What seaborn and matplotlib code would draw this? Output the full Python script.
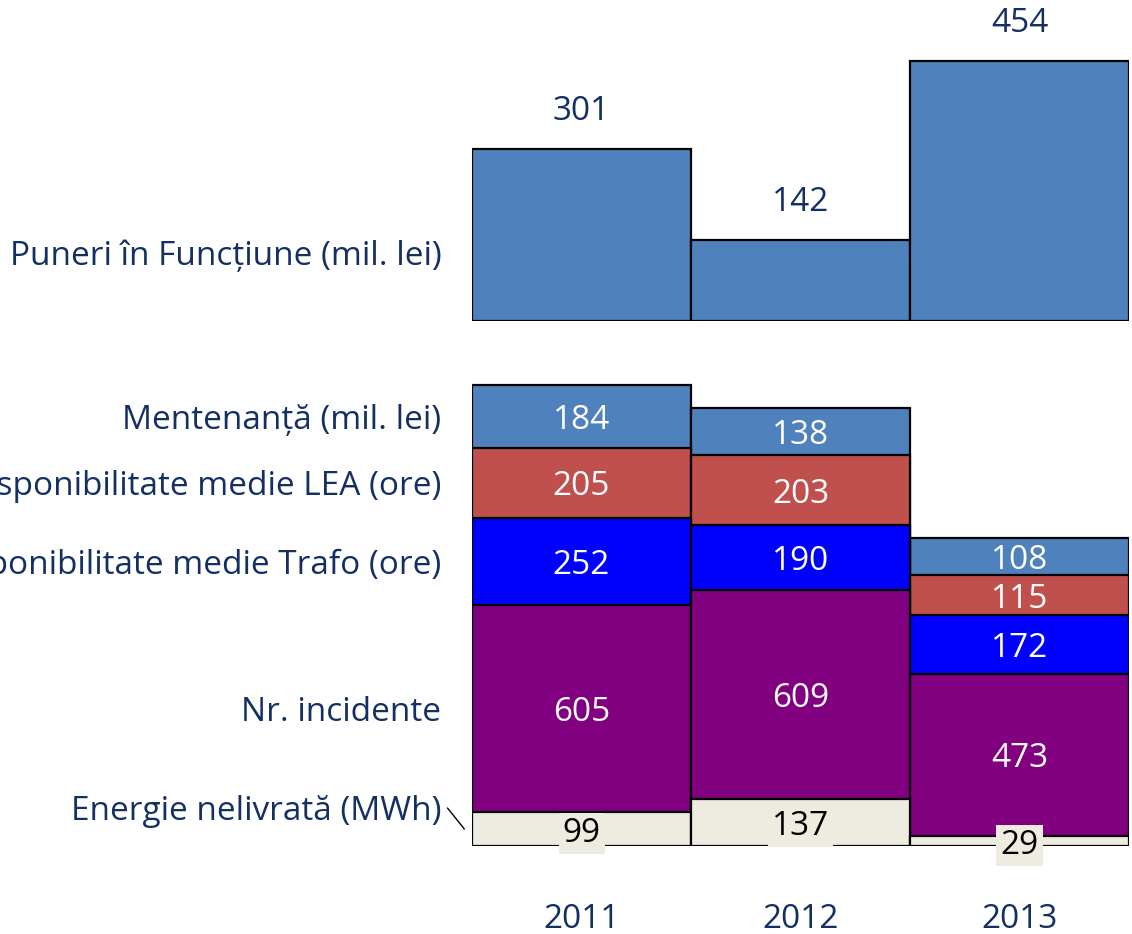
import numpy as np
import pandas as pd
import matplotlib
matplotlib.use("Agg")
import matplotlib.pyplot as plt
import matplotlib.transforms as mtrans
import seaborn as sns

sns.set_style("white")
plt.rcParams['font.family'] = ['Open Sans', 'DejaVu Sans']

# data
ani = ["2011", "2012", "2013"]
puneri = [301, 142, 454]
energie = [99, 137, 29]
incidente = [605, 609, 473]
trafo = [252, 190, 172]
lea = [205, 203, 115]
mentenanta = [184, 138, 108]

straturi = ["Energie nelivrată (MWh)", "Nr. incidente",
            "Disponibilitate medie Trafo (ore)", "Disponibilitate medie LEA (ore)",
            "Mentenanță (mil. lei)"]
valori = [energie, incidente, trafo, lea, mentenanta]
culori = ["#EEECE1", "#800080", "#0000FF", "#C0504D", "#4F81BD"]
culori_text = ["black", "white", "white", "white", "white"]

navy = "#132F63"
fs = 24
lw = 1.6

df = pd.DataFrame({"an": ani, "puneri": puneri})
for nume, v in zip(straturi, valori):
    df[nume] = v
cum = df[straturi].cumsum(axis=1)

W, H = 1132, 934
fig = plt.figure(figsize=(W / 100, H / 100), dpi=100)


def jos(ax):
    # nudge text down a few pixels so the digits sit on the centre line
    return mtrans.offset_copy(ax.transData, fig=fig, x=0, y=-4, units="dots")


# top panel: 0.5727 px per unit, baseline at y=321
ax1 = fig.add_axes([472 / W, (H - 321) / H, 657 / W, 321 / H])
sns.barplot(data=df, x="an", y="puneri", color="#4F81BD", saturation=1,
            width=1, edgecolor="black", linewidth=lw, errorbar=None, ax=ax1)
ax1.set_ylim(0, 321 / 0.5727)
ax1.set_xlim(-0.5, 2.5)
for i, v in enumerate(puneri):
    ax1.text(i, v + 72, str(v), ha="center", va="center", fontsize=fs,
             color=navy, transform=jos(ax1))
ax1.text(-0.64, (321 - 252) / 0.5727, "Puneri în Funcțiune (mil. lei)", ha="right",
         va="center", fontsize=fs, color=navy, clip_on=False, transform=jos(ax1))
ax1.axis("off")

# bottom panel: 0.343 px per unit, baseline at y=846
ax2 = fig.add_axes([472 / W, (H - 846) / H, 657 / W, 506 / H])
for k in range(len(straturi) - 1, -1, -1):
    tmp = pd.DataFrame({"an": ani, "v": cum[straturi[k]]})
    sns.barplot(data=tmp, x="an", y="v", color=culori[k], saturation=1,
                width=1, edgecolor="black", linewidth=lw, errorbar=None, ax=ax2)
ax2.set_ylim(0, 506 / 0.343)
ax2.set_xlim(-0.5, 2.5)

for k, nume in enumerate(straturi):
    for i in range(len(ani)):
        v = valori[k][i]
        mid = cum[nume].iloc[i] - v / 2
        bb = None
        if k == 0:
            bb = dict(boxstyle="square,pad=0.12", fc=culori[0], ec="none")
        ax2.text(i, mid, str(v), ha="center", va="center", fontsize=fs,
                 color=culori_text[k], bbox=bb, transform=jos(ax2))

# labels on the left, at the 2011 segment centres
for k, nume in enumerate(straturi):
    if k == 0:
        y = (846 - 808) / 0.343
    else:
        y = cum[nume].iloc[0] - valori[k][0] / 2
    ax2.text(-0.64, y, nume, ha="right", va="center", fontsize=fs, color=navy,
             clip_on=False, transform=jos(ax2))
ax2.plot([-0.612, -0.535], [(846 - 808) / 0.343, (846 - 829) / 0.343],
         color="black", lw=1, clip_on=False)

sns.despine(ax=ax2, left=True, bottom=True)
ax2.set_yticks([])
ax2.set_xlabel("")
ax2.set_ylabel("")
ax2.tick_params(axis="x", length=0, pad=41, labelsize=fs, labelcolor=navy)

fig.savefig("out.png", dpi=100)
